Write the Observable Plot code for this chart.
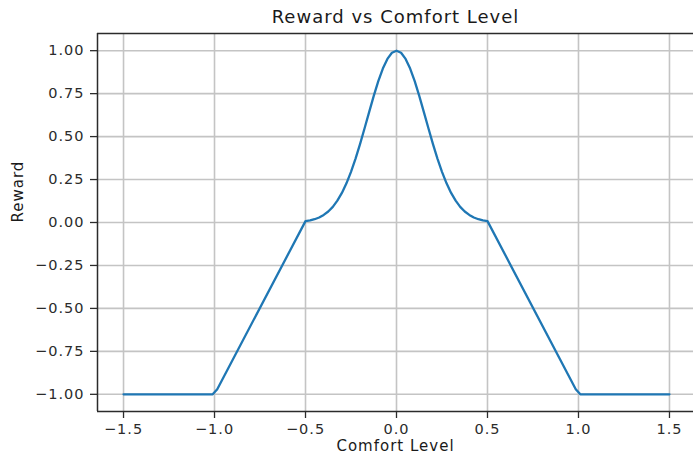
<!DOCTYPE html>
<html>
<head>
<meta charset="utf-8">
<script src="https://cdn.jsdelivr.net/npm/d3@7"></script>
<script src="https://cdn.jsdelivr.net/npm/@observablehq/plot@0.6"></script>
<style>
  html, body { margin: 0; padding: 0; background: white; }
</style>
</head>
<body>
<script>
const comfort = [
  -1.5, -1.01, -0.985, -0.5, -0.475, -0.45, -0.425, -0.4, -0.375, -0.35, -0.325, -0.3,
  -0.275, -0.25, -0.225, -0.2, -0.175, -0.15, -0.125, -0.1, -0.075, -0.05, -0.025, 0,
  0.025, 0.05, 0.075, 0.1, 0.125, 0.15, 0.175, 0.2, 0.225, 0.25, 0.275, 0.3,
  0.325, 0.35, 0.375, 0.4, 0.425, 0.45, 0.475, 0.5, 0.985, 1.01, 1.5
];
const reward = [
  -1, -1, -0.97, 0.008, 0.012, 0.019, 0.029, 0.044, 0.064, 0.091, 0.127, 0.172,
  0.228, 0.295, 0.372, 0.458, 0.550, 0.644, 0.737, 0.823, 0.896, 0.952, 0.988, 1,
  0.988, 0.952, 0.896, 0.823, 0.737, 0.644, 0.550, 0.458, 0.372, 0.295, 0.228, 0.172,
  0.127, 0.091, 0.064, 0.044, 0.029, 0.019, 0.012, 0.008, -0.97, -1, -1
];
const xTicks = [-1.5, -1.0, -0.5, 0.0, 0.5, 1.0, 1.5];
const yTicks = [-1.0, -0.75, -0.5, -0.25, 0.0, 0.25, 0.5, 0.75, 1.0];
const titleText = "Reward vs Comfort Level";
const xLabel = "Comfort Level";
const yLabel = "Reward";

const data = comfort.map((c, i) => ({comfort: c, reward: reward[i]}));
const xDomain = [-1.643, 1.632];
const yDomain = [-1.1, 1.1];
const ink = "#2b2b2b";

const chart = Plot.plot({
  width: 693,
  height: 460,
  marginLeft: 97,
  marginRight: 0,
  marginTop: 33,
  marginBottom: 49,
  style: {fontFamily: "DejaVu Sans", fontSize: "14px", letterSpacing: "1px", color: ink, background: "white"},
  x: {domain: xDomain},
  y: {domain: yDomain},
  marks: [
    Plot.gridX(xTicks, {stroke: "#c4c4c4", strokeWidth: 1.6, strokeOpacity: 1}),
    Plot.gridY(yTicks, {stroke: "#c4c4c4", strokeWidth: 1.6, strokeOpacity: 1}),
    Plot.line(data, {x: "comfort", y: "reward", stroke: "#1f77b4", strokeWidth: 2.3, curve: "linear", strokeLinejoin: "round"}),
    Plot.ruleX([xDomain[0]], {stroke: ink, strokeWidth: 1.5}),
    Plot.ruleY([yDomain[0], yDomain[1]], {stroke: ink, strokeWidth: 1.5}),
    Plot.axisX(xTicks, {tickSize: 7, tickPadding: 5, tickFormat: d3.format(".1f"), label: null, fontSize: 14.5, stroke: ink, fill: ink, strokeWidth: 1.3}),
    Plot.axisY(yTicks, {tickSize: 7, tickPadding: 6, tickFormat: d3.format(".2f"), label: null, fontSize: 14.5, stroke: ink, fill: ink, strokeWidth: 1.3}),
    Plot.text([titleText], {frameAnchor: "top", dy: -16, fontSize: 18, fill: "#1a1a1a", lineAnchor: "middle"}),
    Plot.text([xLabel], {frameAnchor: "bottom", dy: 35, fontSize: 15, fill: "#1a1a1a", lineAnchor: "middle"}),
    Plot.text([yLabel], {frameAnchor: "left", dx: -79, rotate: -90, fontSize: 15, fill: "#1a1a1a", lineAnchor: "middle"})
  ]
});
document.body.appendChild(chart);
</script>
</body>
</html>
